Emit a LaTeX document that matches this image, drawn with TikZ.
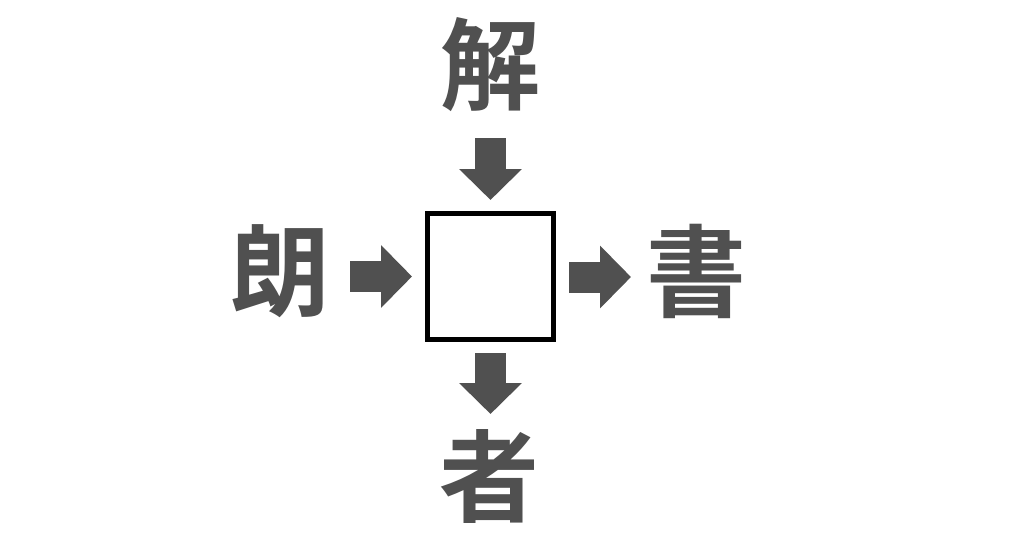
\documentclass[tikz,border=0pt]{standalone}
\usepackage{fontspec}
\newfontfamily\cjk{Noto Sans CJK JP Bold}
\usetikzlibrary{arrows.meta}
\definecolor{ink}{RGB}{80,80,80}
\tikzset{
  kanji/.style={text=ink, inner sep=0pt, font=\cjk\fontsize{100pt}{100pt}\selectfont},
  blockarrow/.style={draw=ink, line width=31pt, -{Triangle[length=31pt,width=61pt,fill=ink]}},
  answerbox/.style={draw=black, line width=5pt, minimum size=126pt, inner sep=0pt, fill=white}
}
\begin{document}
\begin{tikzpicture}[x=1pt,y=-1pt]
\useasboundingbox[fill=white] (0,0) rectangle (1024,538);
\node[answerbox] (box) at (490.5,276.5) {};
\node[kanji] (top) at (490,65) {解};
\node[kanji] (left) at (280.5,271.5) {朗};
\node[kanji] (right) at (696.5,271.5) {書};
\node[kanji] (bottom) at (489.5,476) {者};
\coordinate (ta) at (490.5,138);
\coordinate (tb) at (490.5,200);
\coordinate (ba) at (490.5,353);
\coordinate (bb) at (490.5,414);
\coordinate (la) at (350,276.5);
\coordinate (lb) at (412,276.5);
\coordinate (ra) at (569,277);
\coordinate (rb) at (631,277);
\draw[blockarrow] (ta) -- (tb);
\draw[blockarrow] (ba) -- (bb);
\draw[blockarrow] (la) -- (lb);
\draw[blockarrow] (ra) -- (rb);
\end{tikzpicture}
\end{document}
